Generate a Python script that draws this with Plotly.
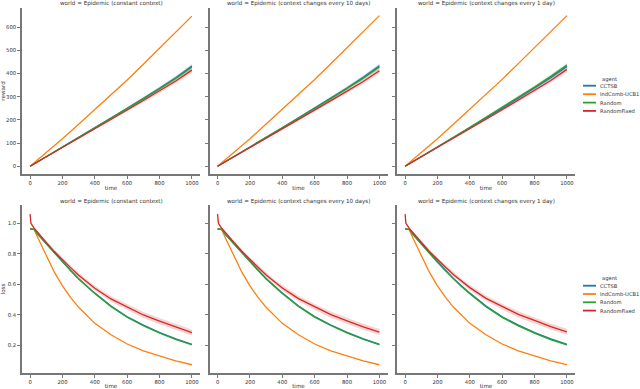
import plotly.graph_objects as go

# ---------------- data ----------------
AGENTS = ["CCTSB", "IndComb-UCB1", "Random", "RandomFixed"]
COLORS = {"CCTSB": "#1f77b4", "IndComb-UCB1": "#ff7f0e", "Random": "#2ca02c", "RandomFixed": "#d62728"}
FILLS = {"CCTSB": "rgba(31,119,180,0.2)", "IndComb-UCB1": "rgba(255,127,14,0.2)",
         "Random": "rgba(44,160,44,0.2)", "RandomFixed": "rgba(214,39,40,0.2)"}

TITLES = ["world = Epidemic (constant context)",
          "world = Epidemic (context changes every 10 days)",
          "world = Epidemic (context changes every 1 day)"]

# reward (top row)
t_reward = [0, 100, 200, 300, 400, 500, 600, 700, 800, 900, 1000]
reward_p1 = {
    "CCTSB":        [0, 41, 82, 124, 166, 208, 250, 292, 336, 382, 432],
    "IndComb-UCB1": [0, 58, 119, 181, 244, 308, 372, 440, 510, 578, 648],
    "Random":       [0, 41, 82, 124, 165, 207, 249, 291, 334, 379, 428],
    "RandomFixed":  [0, 40, 80, 121, 162, 202, 243, 284, 325, 368, 415],
}
reward_p2 = {
    "CCTSB":        [0, 41, 82, 124, 166, 209, 251, 294, 338, 384, 434],
    "IndComb-UCB1": [0, 58, 119, 182, 245, 309, 374, 442, 512, 580, 650],
    "Random":       [0, 41, 82, 123, 165, 207, 249, 292, 335, 380, 428],
    "RandomFixed":  [0, 40, 80, 120, 161, 201, 242, 283, 324, 366, 412],
}
reward_p3 = {
    "CCTSB":        [0, 41, 82, 124, 166, 208, 250, 293, 337, 382, 431],
    "IndComb-UCB1": [0, 58, 119, 182, 245, 310, 375, 443, 513, 581, 650],
    "Random":       [0, 41, 83, 125, 168, 211, 254, 298, 342, 388, 437],
    "RandomFixed":  [0, 40, 80, 121, 162, 203, 244, 285, 327, 370, 418],
}
reward_ci = {
    "CCTSB":        [0, 1, 2, 3, 3, 4, 5, 6, 7, 8, 9],
    "IndComb-UCB1": [0, 0.5, 1, 1, 1, 1.5, 1.5, 2, 2, 2, 2],
    "Random":       [0, 1, 2, 3, 3, 4, 5, 6, 7, 8, 9],
    "RandomFixed":  [0, 1, 2, 3, 4, 5, 6, 8, 9, 10, 12],
}

# loss (bottom row)
t_loss = [0, 5, 25, 50, 100, 150, 200, 250, 300, 350, 400, 500, 600, 700, 800, 900, 1000]
loss_p1 = {
    "CCTSB":        [0.963, 0.963, 0.96, 0.926, 0.867, 0.807, 0.748, 0.693, 0.638, 0.588, 0.543, 0.458, 0.388, 0.333, 0.285, 0.243, 0.207],
    "IndComb-UCB1": [0.963, 0.963, 0.96, 0.90, 0.79, 0.68, 0.59, 0.515, 0.45, 0.395, 0.345, 0.27, 0.21, 0.165, 0.13, 0.10, 0.074],
    "Random":       [0.963, 0.963, 0.96, 0.925, 0.865, 0.805, 0.745, 0.69, 0.635, 0.585, 0.54, 0.455, 0.385, 0.33, 0.282, 0.24, 0.205],
    "RandomFixed":  [1.06, 1.0, 0.968, 0.935, 0.875, 0.815, 0.76, 0.71, 0.66, 0.615, 0.575, 0.505, 0.45, 0.40, 0.36, 0.32, 0.285],
}
loss_p2 = {
    "CCTSB":        [0.963, 0.963, 0.96, 0.927, 0.868, 0.808, 0.749, 0.694, 0.639, 0.589, 0.544, 0.459, 0.389, 0.334, 0.286, 0.244, 0.208],
    "IndComb-UCB1": [0.963, 0.963, 0.96, 0.90, 0.79, 0.68, 0.59, 0.515, 0.45, 0.395, 0.345, 0.27, 0.21, 0.165, 0.13, 0.10, 0.074],
    "Random":       [0.963, 0.963, 0.96, 0.925, 0.866, 0.806, 0.746, 0.691, 0.636, 0.586, 0.541, 0.456, 0.386, 0.331, 0.283, 0.241, 0.206],
    "RandomFixed":  [1.06, 1.0, 0.968, 0.936, 0.877, 0.817, 0.762, 0.712, 0.662, 0.617, 0.577, 0.507, 0.452, 0.402, 0.362, 0.322, 0.288],
}
loss_p3 = {
    "CCTSB":        [0.963, 0.963, 0.96, 0.926, 0.867, 0.807, 0.748, 0.693, 0.638, 0.588, 0.543, 0.458, 0.388, 0.333, 0.285, 0.243, 0.208],
    "IndComb-UCB1": [0.963, 0.963, 0.96, 0.90, 0.79, 0.68, 0.59, 0.515, 0.45, 0.395, 0.345, 0.27, 0.21, 0.165, 0.13, 0.10, 0.075],
    "Random":       [0.963, 0.963, 0.96, 0.925, 0.864, 0.804, 0.744, 0.689, 0.634, 0.584, 0.539, 0.454, 0.384, 0.329, 0.281, 0.239, 0.204],
    "RandomFixed":  [1.06, 1.0, 0.968, 0.936, 0.876, 0.816, 0.762, 0.713, 0.663, 0.619, 0.579, 0.509, 0.454, 0.404, 0.364, 0.324, 0.29],
}
loss_ci = {
    "CCTSB":        [0, 0, 0.002, 0.003, 0.004, 0.005, 0.005, 0.006, 0.006, 0.006, 0.006, 0.006, 0.006, 0.006, 0.006, 0.006, 0.006],
    "IndComb-UCB1": [0, 0, 0.001, 0.001, 0.001, 0.001, 0.001, 0.001, 0.001, 0.001, 0.001, 0.001, 0.001, 0.001, 0.001, 0.001, 0.001],
    "Random":       [0, 0, 0.002, 0.003, 0.004, 0.005, 0.005, 0.006, 0.006, 0.006, 0.006, 0.006, 0.006, 0.006, 0.006, 0.006, 0.006],
    "RandomFixed":  [0.01, 0.008, 0.006, 0.008, 0.01, 0.012, 0.013, 0.014, 0.015, 0.016, 0.017, 0.018, 0.019, 0.02, 0.02, 0.02, 0.02],
}

reward_ticks = [0, 100, 200, 300, 400, 500, 600]
loss_ticks = [0.2, 0.4, 0.6, 0.8, 1.0]
time_ticks = [0, 200, 400, 600, 800, 1000]

# ---------------- figure ----------------
W, H = 640, 389
FONT = "DejaVu Sans"
TXT = "#333333"
TICK_SIZE = 5.3
TEXT_SIZE = 5.6
LEG_SIZE = 5.2
fig = go.Figure()

col_left = [22, 209.5, 397]
col_w = 178
row_px = {"top": (8, 174), "bot": (205, 373)}


def xdom(c):
    return [col_left[c] / W, (col_left[c] + col_w) / W]


def ydom(r):
    a, b = row_px[r]
    return [(H - b) / H, (H - a) / H]


def py(p):
    return (H - p) / H


panels = [("top", 0, reward_p1), ("top", 1, reward_p2), ("top", 2, reward_p3),
          ("bot", 0, loss_p1), ("bot", 1, loss_p2), ("bot", 2, loss_p3)]

for i, (row, col, data) in enumerate(panels):
    n = i + 1
    xa = "x" if n == 1 else f"x{n}"
    ya = "y" if n == 1 else f"y{n}"
    t = t_reward if row == "top" else t_loss
    ci = reward_ci if row == "top" else loss_ci
    for a in AGENTS:
        up = [v + c for v, c in zip(data[a], ci[a])]
        lo = [v - c for v, c in zip(data[a], ci[a])]
        fig.add_trace(go.Scatter(x=t + t[::-1], y=up + lo[::-1], fill="toself",
                                 fillcolor=FILLS[a], line=dict(width=0), mode="lines",
                                 hoverinfo="skip", showlegend=False, xaxis=xa, yaxis=ya))
    for a in AGENTS:
        fig.add_trace(go.Scatter(x=t, y=data[a], mode="lines", name=a,
                                 line=dict(color=COLORS[a], width=1.3),
                                 showlegend=False, xaxis=xa, yaxis=ya))

    axis_common = dict(showline=True, linecolor="#777777", linewidth=1.5,
                       ticks="outside", ticklen=3, tickwidth=1, tickcolor="#777777",
                       showgrid=False, zeroline=False, automargin=False,
                       tickfont=dict(family=FONT, size=TICK_SIZE, color=TXT))
    xkey = "xaxis" if n == 1 else f"xaxis{n}"
    ykey = "yaxis" if n == 1 else f"yaxis{n}"
    fig.layout[xkey] = dict(axis_common, domain=xdom(col), anchor=ya, range=[-50, 1050],
                            tickvals=time_ticks,
                            title=dict(text="time", font=dict(family=FONT, size=TEXT_SIZE, color=TXT), standoff=1))
    if row == "top":
        yk = dict(range=[-33.5, 683], tickvals=reward_ticks)
        ytitle = "reward"
    else:
        yk = dict(range=[0.02, 1.12], tickvals=loss_ticks, tickformat=".1f")
        ytitle = "loss"
    fig.layout[ykey] = dict(axis_common, domain=ydom(row), anchor=xa,
                            showticklabels=(col == 0), **yk,
                            title=dict(text=ytitle if col == 0 else "",
                                       font=dict(family=FONT, size=TEXT_SIZE, color=TXT), standoff=2))
    # panel title
    a0, b0 = row_px[row]
    fig.add_annotation(text=TITLES[col], xref="paper", yref="paper",
                       x=(col_left[col] + col_w / 2) / W, y=py(a0 - 4),
                       xanchor="center", yanchor="middle", showarrow=False,
                       font=dict(family=FONT, size=TEXT_SIZE, color=TXT))

# legends (one per row, seaborn FacetGrid style)
legend_title_y = [79, 278.5]
legend_item_y = [[85.7, 94.2, 102.6, 110.9], [285.7, 294.0, 302.3, 310.6]]
for r in range(2):
    fig.add_annotation(text="agent", xref="paper", yref="paper", x=609 / W, y=py(legend_title_y[r]),
                       xanchor="center", yanchor="middle", showarrow=False,
                       font=dict(family=FONT, size=LEG_SIZE, color=TXT))
    for k, a in enumerate(AGENTS):
        yy = py(legend_item_y[r][k])
        fig.add_shape(type="line", xref="paper", yref="paper", x0=583 / W, x1=596 / W, y0=yy, y1=yy,
                      line=dict(color=COLORS[a], width=1.8))
        fig.add_annotation(text=a, xref="paper", yref="paper", x=598 / W, y=yy,
                           xanchor="left", yanchor="middle", showarrow=False,
                           font=dict(family=FONT, size=LEG_SIZE, color=TXT))

fig.update_layout(
    width=W, height=H, margin=dict(l=0, r=0, t=0, b=0),
    paper_bgcolor="white", plot_bgcolor="white", showlegend=False,
    font=dict(family=FONT, color=TXT),
)

fig.write_html("out.html", config={"displayModeBar": False},
               post_script="document.body.style.margin='0px';document.body.style.overflow='hidden';")
